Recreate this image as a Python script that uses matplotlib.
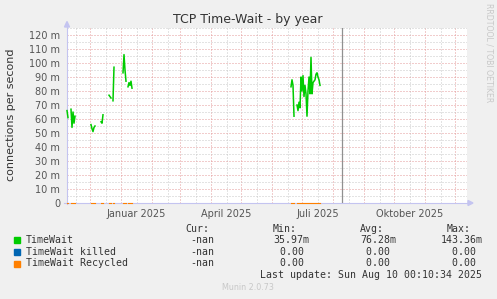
import numpy as np
import matplotlib
matplotlib.use("Agg")
import matplotlib.pyplot as plt
import matplotlib.dates as mdates
from matplotlib.patches import Polygon, Rectangle
import datetime as dt

W, H = 497, 299
nan = np.nan

# ---- data (TimeWait, milli-connections per second, daily) ----
seg_starts = ["2024-11-08", "2024-12-02", "2024-12-12", "2024-12-20",
              "2025-01-03", "2025-06-20"]
seg_values = [
    [66, 61, nan, nan, 67, 54, 65, 57, 62],
    [56, 53, 51, 54, 55],
    [58, 57, 63],
    [77, 76, 75, nan, 73, 97],
    [93, 106, 95, 87, nan, 83, 86, 84, 87, 82],
    [83, 88, 84, 62, nan, nan, 70, 66, 72, 68, 90, 80, 91, 76, 84, 78, 62,
     80, 90, 78, 104, 78, 86, 87, 88, 92, 93, 90, 88, 84],
]
x_start = dt.datetime(2024, 11, 8)
x_end = dt.datetime(2025, 12, 13)
now = dt.datetime(2025, 8, 10, 0, 10)

y_ticks = list(range(0, 121, 10))
y_labels = ["0"] + [f"{v} m" for v in y_ticks[1:]]
x_label_months = {1: "Januar 2025", 4: "April 2025", 7: "Juli 2025", 10: "Oktober 2025"}

legend_names = ["TimeWait", "TimeWait killed", "TimeWait Recycled"]
legend_colors = ["#00CC00", "#0066B3", "#FF8000"]
cur_vals = ["-nan", "-nan", "-nan"]
min_vals = ["35.97m", "0.00 ", "0.00 "]
avg_vals = ["76.28m", "0.00 ", "0.00 "]
max_vals = ["143.36m", "0.00 ", "0.00 "]

# ---- figure ----
fig = plt.figure(figsize=(W / 100, H / 100), dpi=100, facecolor="#F0F0F0")
L, R, T, B = 67, 467, 28, 203
ax = fig.add_axes([L / W, 1 - B / H, (R - L) / W, (B - T) / H])
ax.set_facecolor("white")
for s in ax.spines.values():
    s.set_visible(False)

# grid ticks (only inside the visible range)
xmin, xmax = mdates.date2num(x_start), mdates.date2num(x_end)
month_starts = []
mids = []
mid_labels = []
y0, m0 = 2024, 11
for i in range(15):
    y, m = y0 + (m0 - 1 + i) // 12, (m0 - 1 + i) % 12 + 1
    d = dt.datetime(y, m, 1)
    ms = mdates.date2num(d)
    md = mdates.date2num(d + dt.timedelta(days=15.5))
    if xmin <= ms <= xmax:
        month_starts.append(ms)
    if xmin <= md <= xmax:
        mids.append(md)
        mid_labels.append(x_label_months.get(m, "") if y == 2025 else "")
ax.set_xticks(month_starts)
ax.set_xticklabels([""] * len(month_starts))
ax.set_xticks(mids, labels=mid_labels, minor=True)
ax.set_yticks(y_ticks, labels=y_labels)
ax.set_yticks(list(range(5, 126, 10)), minor=True)
ax.set_xlim(xmin, xmax)
ax.set_ylim(0, 125)

ax.grid(True, which="major", color="#E49A9A", lw=0.72, ls=(0, (1, 2)))
ax.grid(True, which="minor", color="#C8C8C8", lw=0.72, ls=(0, (1, 2)))
ax.set_axisbelow(True)
ax.tick_params(axis="y", which="major", length=0, pad=5, labelsize=7, labelcolor="#555555")
ax.tick_params(axis="y", which="minor", length=0)
ax.tick_params(axis="x", which="both", length=0)
ax.tick_params(axis="x", which="minor", pad=4.5, labelsize=7, labelcolor="#555555")

# axis lines + arrows (below the data)
axcol = "#C4C4F0"
top_frac = (B - 25) / (B - T)
ax.plot([0, 0], [-0.003, top_frac], transform=ax.transAxes, color=axcol, lw=0.8,
        clip_on=False, zorder=3)
ax.plot([-3 / (R - L), (469 - L) / (R - L)], [0, 0], transform=ax.transAxes, color=axcol,
        lw=0.8, clip_on=False, zorder=3)


def fx(x):
    return x / W


def fy(y):
    return 1 - y / H


fig.add_artist(Polygon([[fx(64.5), fy(27)], [fx(69.5), fy(27)], [fx(67), fy(21.5)]],
                       closed=True, transform=fig.transFigure, color=axcol, zorder=2))
fig.add_artist(Polygon([[fx(468), fy(200.5)], [fx(468), fy(205.5)], [fx(473), fy(203)]],
                       closed=True, transform=fig.transFigure, color=axcol, zorder=2))

# data
for st, vals in zip(seg_starts, seg_values):
    d0 = dt.datetime.fromisoformat(st)
    xs = [mdates.date2num(d0 + dt.timedelta(days=i)) for i in range(len(vals))]
    v = np.array(vals, dtype=float)
    ax.plot(xs, v, color="#00CC00", lw=1.1, zorder=5, clip_on=False)
    z = np.where(np.isnan(v), nan, 0.0)
    ax.plot(xs, z, color="#0066B3", lw=0.7, zorder=5, clip_on=False)
    ax.plot(xs, z, color="#FF8000", lw=0.8, zorder=6, clip_on=False)

ax.axvline(mdates.date2num(now), color="#909090", lw=0.9, zorder=4)
ax.set_xlim(xmin, xmax)
ax.set_ylim(0, 125)

# titles
fig.text(fx(247.5), fy(19), "TCP Time-Wait - by year", ha="center", va="center",
         fontsize=9, color="#333333")
fig.text(fx(11), fy(114.5), "connections per second", ha="center", va="center",
         rotation=90, fontsize=8, color="#333333")
fig.text(fx(488.5), fy(53), "RRDTOOL / TOBI OETIKER", ha="center", va="center",
         rotation=270, fontsize=5.6, color="#C8C8C8")

# legend
mono = dict(family="DejaVu Sans Mono", fontsize=7.1, color="#333333", va="center")
fig.text(fx(185), fy(228.5), "Cur:", ha="left", **mono)
fig.text(fx(272.7), fy(228.5), "Min:", ha="left", **mono)
fig.text(fx(360), fy(228.5), "Avg:", ha="left", **mono)
fig.text(fx(446.7), fy(228.5), "Max:", ha="left", **mono)
rows_y = [240, 252, 263.5]
for i, yy in enumerate(rows_y):
    fig.add_artist(Rectangle((fx(14), fy(yy + 3)), 6 / W, 6 / H, transform=fig.transFigure,
                             color=legend_colors[i]))
    fig.text(fx(26), fy(yy), legend_names[i], ha="left", **mono)
    fig.text(fx(214.5), fy(yy), cur_vals[i], ha="right", **mono)
    fig.text(fx(309.5), fy(yy), min_vals[i], ha="right", **mono)
    fig.text(fx(396), fy(yy), avg_vals[i], ha="right", **mono)
    fig.text(fx(482.5), fy(yy), max_vals[i], ha="right", **mono)
fig.text(fx(482.5), fy(275.5), "Last update: Sun Aug 10 00:10:34 2025", ha="right", **mono)
fig.text(fx(248), fy(288), "Munin 2.0.73", ha="center", va="center", fontsize=5.8,
         color="#C8C8C8")

fig.savefig("out.png", dpi=100, facecolor=fig.get_facecolor())
